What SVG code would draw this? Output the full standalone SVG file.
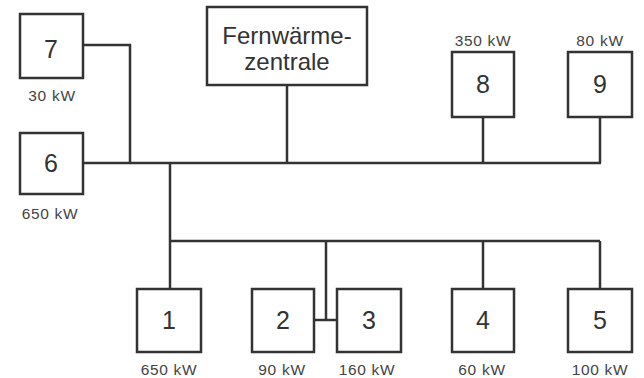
<svg xmlns="http://www.w3.org/2000/svg" width="644" height="378" viewBox="0 0 644 378">
<style>
.box{fill:#fff;stroke:#333;stroke-width:2.5}
.ln{fill:none;stroke:#333;stroke-width:2.5}
.num{font-family:"Liberation Sans",Arial,sans-serif;font-size:25px;fill:#333;text-anchor:middle}
.big{font-family:"Liberation Sans",Arial,sans-serif;font-size:24px;fill:#333;text-anchor:middle}
.kw{font-family:"Liberation Sans",Arial,sans-serif;font-size:15.5px;letter-spacing:0.7px;fill:#444;text-anchor:middle}
</style>
<rect width="644" height="378" fill="#fff"/>
<g id="connectors">
<polyline class="ln" points="82,45 130,45 130,163"/>
<line class="ln" x1="82" y1="163" x2="601" y2="163"/>
<line class="ln" x1="287" y1="85" x2="287" y2="163"/>
<line class="ln" x1="483" y1="117" x2="483" y2="163"/>
<polyline class="ln" points="600,117 600,163"/>
<line class="ln" x1="170" y1="163" x2="170" y2="289"/>
<line class="ln" x1="170" y1="241" x2="600" y2="241"/>
<line class="ln" x1="326" y1="241" x2="326" y2="320"/>
<line class="ln" x1="314" y1="320" x2="337" y2="320"/>
<line class="ln" x1="483" y1="241" x2="483" y2="289"/>
<line class="ln" x1="600" y1="241" x2="600" y2="289"/>
</g>
<g id="node-fw">
<rect class="box" x="207" y="7" width="160" height="78"/>
<text class="big" x="287" y="44">Fernwärme-</text>
<text class="big" x="287" y="70">zentrale</text>
</g>
<g id="node-7">
<rect class="box" x="20" y="14" width="63" height="64"/>
<text class="num" x="51" y="58">7</text>
<text class="kw" x="52" y="101">30 kW</text>
</g>
<g id="node-6">
<rect class="box" x="20" y="133" width="63" height="61"/>
<text class="num" x="51" y="172">6</text>
<text class="kw" x="50" y="219">650 kW</text>
</g>
<g id="node-8">
<rect class="box" x="452" y="52" width="62" height="65"/>
<text class="num" x="483" y="93">8</text>
<text class="kw" x="483" y="46">350 kW</text>
</g>
<g id="node-9">
<rect class="box" x="568" y="52" width="64" height="65"/>
<text class="num" x="600" y="93">9</text>
<text class="kw" x="600" y="46">80 kW</text>
</g>
<g id="node-1">
<rect class="box" x="137" y="289" width="64" height="63"/>
<text class="num" x="169" y="329">1</text>
<text class="kw" x="169" y="375">650 kW</text>
</g>
<g id="node-2">
<rect class="box" x="252" y="289" width="62" height="63"/>
<text class="num" x="283" y="329">2</text>
<text class="kw" x="282" y="375">90 kW</text>
</g>
<g id="node-3">
<rect class="box" x="337" y="289" width="64" height="63"/>
<text class="num" x="369" y="329">3</text>
<text class="kw" x="367" y="375">160 kW</text>
</g>
<g id="node-4">
<rect class="box" x="452" y="289" width="62" height="63"/>
<text class="num" x="483" y="329">4</text>
<text class="kw" x="482" y="375">60 kW</text>
</g>
<g id="node-5">
<rect class="box" x="568" y="289" width="64" height="63"/>
<text class="num" x="600" y="329">5</text>
<text class="kw" x="600" y="375">100 kW</text>
</g>
</svg>
